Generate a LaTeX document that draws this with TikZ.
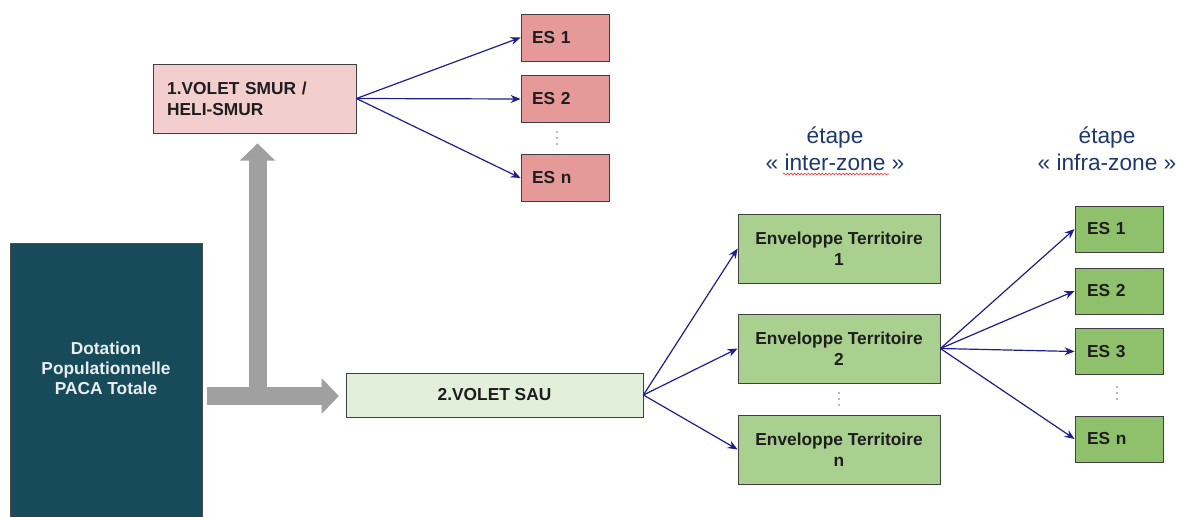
\documentclass[tikz,border=0pt]{standalone}
\usepackage{fontspec}
\setmainfont{Liberation Sans}
\usetikzlibrary{arrows.meta,decorations.pathmorphing}
\definecolor{dotBlue}{RGB}{23,75,90}
\definecolor{smurPink}{RGB}{243,206,207}
\definecolor{esPink}{RGB}{230,153,153}
\definecolor{sauGreen}{RGB}{226,239,218}
\definecolor{envGreen}{RGB}{169,208,142}
\definecolor{esGreen}{RGB}{143,193,108}
\definecolor{arrGrey}{RGB}{160,160,160}
\definecolor{lnkBlue}{RGB}{30,30,140}
\definecolor{stepBlue}{RGB}{32,56,110}
\definecolor{boxText}{RGB}{30,30,30}
\tikzstyle{box}=[draw=black!75, line width=0.6pt, text=boxText,
  font=\bfseries\fontsize{13}{16}\selectfont]
\tikzstyle{esRed}=[box, fill=esPink, minimum width=66pt, minimum height=35.25pt,
  text width=49.5pt, inner xsep=8.25pt, align=left]
\tikzstyle{esGrn}=[box, fill=esGreen, minimum width=66pt, minimum height=34.5pt,
  text width=48pt, inner xsep=9pt, align=left]
\tikzstyle{envBox}=[box, fill=envGreen, minimum width=151.5pt, minimum height=51.75pt, align=center]
\tikzstyle{blueArr}=[draw=lnkBlue, line width=0.9pt, -{Stealth[length=7.5pt,width=6pt]}]
\tikzstyle{bigArr}=[draw=arrGrey, line width=13.5pt, -{Triangle[length=13pt,width=26pt]}]
\tikzstyle{vDots}=[draw=black!55, line width=1.2pt, line cap=round, dash pattern=on 0pt off 4.5pt]
\tikzstyle{stepLbl}=[text=stepBlue, inner sep=0pt, align=center,
  font=\fontsize{17}{20.25}\selectfont]
\newcommand{\lnk}[2]{\draw[blueArr] (#1.east) -- (#2.west)}

\begin{document}
\begin{tikzpicture}[x=0.75pt,y=-0.75pt]
  \useasboundingbox (0,0) rectangle (1178,517);
  % source
  \node[draw=black!70, fill=dotBlue, minimum width=144pt, minimum height=207.75pt] (dot) at (106,381.5) {};
  \node[align=center, text={rgb,255:red,232;green,237;blue,240},
    font=\bfseries\fontsize{13}{15}\selectfont] (dotTxt) at (106,368) {Dotation\\Populationnelle\\PACA Totale};
  % first part
  \node[box, fill=smurPink, minimum width=152.25pt, minimum height=51.75pt,
    text width=131pt, inner xsep=10.5pt, align=left] (smur) at (254.5,98.5) {1.VOLET SMUR /\\HELI-SMUR};
  \node[esRed] (es1) at (565,37.5) {ES 1};
  \node[esRed] (es2) at (565,99) {ES 2};
  \node[esRed] (esn) at (565,178) {ES n};
  \draw[vDots] (557,132) -- (557,149);
  % second part
  \node[box, fill=sauGreen, minimum width=222.75pt, minimum height=33pt] (sau) at (494.5,395) {2.VOLET SAU};
  \node[envBox] (env1) at (839,248.5) {Enveloppe Territoire\\1};
  \node[envBox] (env2) at (839,348.5) {Enveloppe Territoire\\2};
  \node[envBox] (envn) at (839,449.5) {Enveloppe Territoire\\n};
  \draw[vDots] (839,393) -- (839,410);
  \node[esGrn] (gs1) at (1119,229) {ES 1};
  \node[esGrn] (gs2) at (1119,291) {ES 2};
  \node[esGrn] (gs3) at (1119,351.5) {ES 3};
  \node[esGrn] (gsn) at (1119,439) {ES n};
  \draw[vDots] (1117,387) -- (1117,405);
  % step titles
  \node[stepLbl] (inter) at (835,149) {étape\\« inter-zone »};
  \node[stepLbl] (infra) at (1107,149) {étape\\« infra-zone »};
  \draw[red!80, line width=0.5pt, decorate,
    decoration={snake, amplitude=0.6pt, segment length=2.6pt}] (783,174) -- (889,174);
  % grey arrows
  \coordinate (jn) at (257.5,396);
  \draw[bigArr, shorten <=3.75pt, shorten >=5pt] (dot.east |- jn) -- (sau.west |- jn);
  \draw[bigArr, shorten >=7.5pt] (jn) -- (jn |- smur.south);
  % links
  \lnk{smur}{es1};
  \lnk{smur}{es2};
  \lnk{smur}{esn};
  \lnk{sau}{env1};
  \lnk{sau}{env2};
  \lnk{sau}{envn};
  \lnk{env2}{gs1};
  \lnk{env2}{gs2};
  \lnk{env2}{gs3};
  \lnk{env2}{gsn};
\end{tikzpicture}
\end{document}
